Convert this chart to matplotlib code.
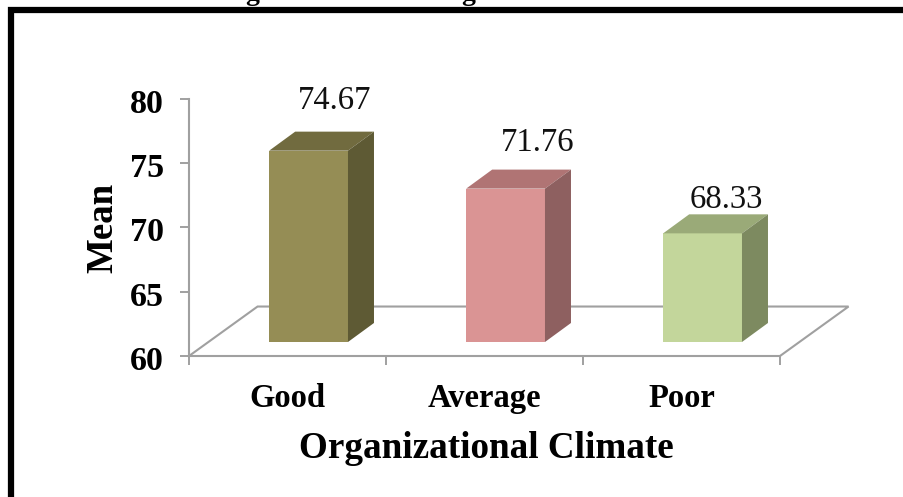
import matplotlib
matplotlib.use("Agg")
import matplotlib.pyplot as plt
from matplotlib.patches import Polygon, Rectangle
from matplotlib.transforms import ScaledTranslation

categories = ["Good", "Average", "Poor"]
means = [74.67, 71.76, 68.33]
y_ticks = [60, 65, 70, 75, 80]
x_label = "Organizational Climate"
y_label = "Mean"
front_colors = ["#958D55", "#DA9494", "#C3D69B"]
top_colors = ["#716B3F", "#B07474", "#9AAA78"]
side_colors = ["#5E5A34", "#8E6060", "#7D8A60"]

W, H = 904, 497
plt.rcParams["font.family"] = "Liberation Serif"
fig = plt.figure(figsize=(W / 100, H / 100), dpi=100)
ax = fig.add_axes([189 / W, 1 - 356 / H, (780 - 189) / W, (356 - 99) / H])
ax.set_xlim(0, 3)
ax.set_ylim(60, 80)
ax.patch.set_alpha(0)
grey = "#A0A0A0"

# 3D offsets in data units
floor_dx, floor_dy = 0.348, 3.85
bar_dx, bar_dy = 0.107, 1.09
depth_dx, depth_dy = 0.132, 1.48
half_w = 0.2
bar_scale = 1.015

ax.plot([0, floor_dx, 3 + floor_dx, 3], [60, 60 + floor_dy, 60 + floor_dy, 60],
        color=grey, lw=1.5, clip_on=False, solid_joinstyle="miter", zorder=1)

for i, (v, fc, tc, sc) in enumerate(zip(means, front_colors, top_colors, side_colors)):
    c = i + 0.5 + bar_dx
    x0, x1 = c - half_w, c + half_w
    y0 = 60 + bar_dy
    y1 = y0 + (v - 60) * bar_scale
    ax.add_patch(Rectangle((x0, y0), x1 - x0, y1 - y0, fc=fc, ec="none", clip_on=False, zorder=3))
    ax.add_patch(Polygon([(x0, y1), (x1, y1), (x1 + depth_dx, y1 + depth_dy), (x0 + depth_dx, y1 + depth_dy)],
                         fc=tc, ec="none", clip_on=False, zorder=3))
    ax.add_patch(Polygon([(x1, y0), (x1 + depth_dx, y0 + depth_dy), (x1 + depth_dx, y1 + depth_dy), (x1, y1)],
                         fc=sc, ec="none", clip_on=False, zorder=3))

label_x = [0.74, 1.77, 2.73]
label_y = [79.24, 75.94, 71.54]
for x, y, v in zip(label_x, label_y, means):
    ax.text(x, y, f"{v:.2f}", ha="center", va="baseline", fontsize=23.5, color="#111111", clip_on=False)

for s in ["top", "right"]:
    ax.spines[s].set_visible(False)
for s in ["left", "bottom"]:
    ax.spines[s].set_color(grey)
    ax.spines[s].set_linewidth(1.5)
ax.set_xticks([0, 1, 2, 3])
ax.set_xticklabels([])
ax.set_xticks([0.5, 1.5, 2.5], minor=True)
ax.set_xticklabels(categories, minor=True, fontsize=23.5, fontweight="bold")
ax.tick_params(axis="x", which="minor", length=0, pad=19.5)
ax.tick_params(axis="x", which="major", length=6.5, width=1.4, color=grey, direction="out")
ax.set_yticks(y_ticks)
ax.set_yticklabels([str(t) for t in y_ticks], fontsize=24.5, fontweight="bold")
ax.tick_params(axis="y", length=6.5, width=1.4, color=grey, pad=11.5)
shift = ScaledTranslation(0, -2 / 100, fig.dpi_scale_trans)
for lab in ax.get_yticklabels():
    lab.set_transform(lab.get_transform() + shift)

fig.text(486 / W, 1 - 449 / H, x_label, ha="center", va="center", fontsize=26.7, fontweight="bold")
fig.text(102.5 / W, 1 - 228 / H, y_label, ha="center", va="center", rotation=90, fontsize=26.6, fontweight="bold")

# clipped descenders of the source document's heading above the frame
for gx in (252, 468):
    fig.text(gx / W, 1 - 0.5 / H, "g", ha="center", va="baseline", fontsize=20, fontweight="bold")

# outer frame of the source figure: top and left edges only are in view
frame_x = 10.5 / W
frame_y = 1 - 10 / H
fig.add_artist(plt.Line2D([frame_x, frame_x, 1], [0, frame_y, frame_y], transform=fig.transFigure,
                          color="black", lw=4.5, solid_joinstyle="miter", solid_capstyle="butt"))
fig.savefig("out.png", dpi=100)
